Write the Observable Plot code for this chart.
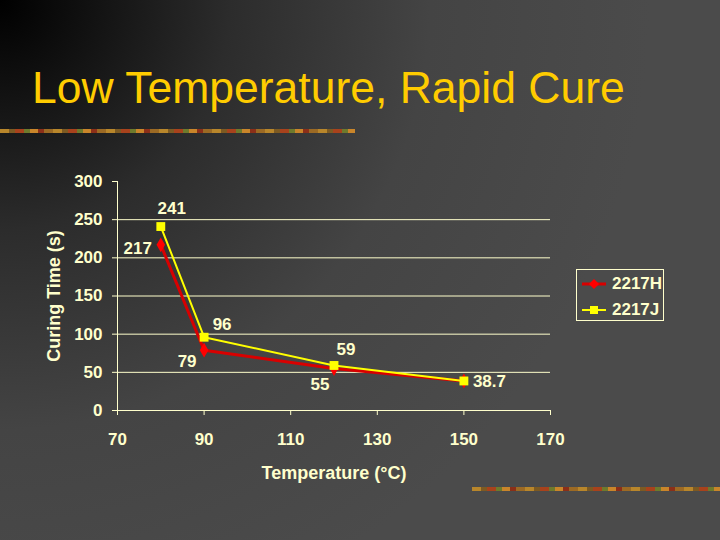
<!DOCTYPE html>
<html>
<head>
<meta charset="utf-8">
<script src="https://cdn.jsdelivr.net/npm/d3@7"></script>
<script src="https://cdn.jsdelivr.net/npm/@observablehq/plot@0.6"></script>
<style>
  html, body { margin: 0; padding: 0; }
  body {
    width: 720px; height: 540px; overflow: hidden; position: relative;
    background: radial-gradient(circle at 0 0, #000 0px, #2c2c2c 230px, #444 430px, #4b4b4b 650px);
    font-family: "Liberation Sans", Arial, sans-serif;
  }
  #title {
    position: absolute; left: 32px; top: 60px;
    font-size: 44.5px; color: #FFCC00; line-height: 56px; white-space: nowrap;
  }
  .stripe {
    position: absolute; height: 4px;
    background: repeating-linear-gradient(90deg, #b8862b 0 9px, #7d5a22 9px 15px, #a8421c 15px 24px, #6e7a2c 24px 30px, #c9852a 30px 38px, #8c2f18 38px 44px, #9c6a24 44px 53px);
  }
  #chart { position: absolute; left: 0; top: 140px; }
  #legend {
    position: absolute; left: 576px; top: 269px; width: 88px; height: 52px;
    border: 1px solid #FFFFCC; box-sizing: border-box;
    color: #FFFFCC; font-weight: bold; font-size: 17px;
  }
  .item { position: absolute; left: 5px; display: flex; align-items: center; }
  .item svg { margin-right: 6px; }
</style>
</head>
<body>
<div id="title">Low Temperature, Rapid Cure</div>
<div class="stripe" style="left:0; top:129px; width:355px;"></div>
<div class="stripe" style="left:472px; top:487px; width:248px;"></div>
<div id="chart"></div>
<div id="legend"></div>
<script>
// ---- data ----
const temps = [80, 90, 120, 150];
const curingH = [217, 79, 55, 38.7];
const curingJ = [241, 96, 59, 38.7];
const seriesNames = ["2217H", "2217J"];
const xTicks = [70, 90, 110, 130, 150, 170];
const yTicks = [0, 50, 100, 150, 200, 250, 300];
const gridTicks = [50, 100, 150, 200, 250];

// ---- styling / layout (not data) ----
const cream = "#FFFFCC";
const colors = {"2217H": "#ff0000", "2217J": "#ffff00"};
const lineColors = {"2217H": "#d80000", "2217J": "#ffff00"};
// label offsets per series/point (px)
const labelPlacementH = [[-23, 4, "middle"], [-17, 11, "middle"], [-14, 16, "middle"], null];
const labelPlacementJ = [[11, -18, "middle"], [18, -13, "middle"], [12, -16, "middle"], [9, 1, "start"]];

const rows = [];
temps.forEach((t, i) => rows.push({series: seriesNames[0], x: t, y: curingH[i], p: labelPlacementH[i]}));
temps.forEach((t, i) => rows.push({series: seriesNames[1], x: t, y: curingJ[i], p: labelPlacementJ[i]}));
const H = rows.filter(d => d.series === seriesNames[0]);
const J = rows.filter(d => d.series === seriesNames[1]);
const labels = rows.filter(d => d.p);

const labelMarks = labels.map(d => Plot.text([d], {
  x: "x", y: "y", text: d => String(d.y),
  dx: d.p[0], dy: d.p[1], textAnchor: d.p[2],
  fill: cream, fontWeight: "bold", fontSize: 17
}));

const chart = Plot.plot({
  width: 720,
  height: 400,
  marginLeft: 117,
  marginRight: 170,
  marginTop: 41,
  marginBottom: 130,
  style: {
    background: "transparent",
    color: cream,
    fontFamily: "'Liberation Sans', Arial, sans-serif",
    fontSize: "17px",
    fontWeight: "bold",
    overflow: "visible"
  },
  x: {domain: [70, 170]},
  y: {domain: [0, 300]},
  marks: [
    Plot.gridY(gridTicks, {stroke: cream, strokeOpacity: 1, strokeWidth: 1}),
    Plot.ruleX([70], {stroke: cream, strokeWidth: 1}),
    Plot.ruleY([0], {stroke: cream, strokeWidth: 1}),
    Plot.axisY({ticks: yTicks, tickSize: 5, tickPadding: 10, stroke: cream, fontSize: 17, label: null}),
    Plot.axisY({ticks: [], label: "Curing Time (s)", labelAnchor: "center", labelArrow: "none",
      labelOffset: 70, fontSize: 18}),
    Plot.axisX({ticks: xTicks, tickSize: 5, tickPadding: 17, stroke: cream, fontSize: 17, label: null}),
    Plot.axisX({ticks: [], label: "Temperature (°C)", labelAnchor: "center", labelArrow: "none",
      labelOffset: 68, fontSize: 18}),
    Plot.line(H, {x: "x", y: "y", stroke: lineColors["2217H"], strokeWidth: 3}),
    Plot.dot(H, {x: "x", y: "y", symbol: "diamond", r: 4.5, fill: colors["2217H"], stroke: "none"}),
    Plot.line(J, {x: "x", y: "y", stroke: lineColors["2217J"], strokeWidth: 2}),
    Plot.dot(J, {x: "x", y: "y", symbol: "square", r: 5, fill: colors["2217J"], stroke: "none"}),
    ...labelMarks
  ]
});
document.getElementById("chart").appendChild(chart);

// legend
const legend = document.getElementById("legend");
seriesNames.forEach((name, i) => {
  const item = document.createElement("div");
  item.className = "item";
  item.style.top = (i === 0 ? 4 : 30) + "px";
  const marker = name === "2217H"
    ? `<path d="M12,1 L17,6 L12,11 L7,6 Z" fill="${colors[name]}"/>`
    : `<rect x="8" y="2" width="8" height="8" fill="${colors[name]}"/>`;
  item.innerHTML = `<svg width="24" height="12"><line x1="0" y1="6" x2="24" y2="6" stroke="${lineColors[name]}" stroke-width="${name === "2217H" ? 3 : 2}"/>${marker}</svg><span>${name}</span>`;
  legend.appendChild(item);
});
</script>
</body>
</html>
